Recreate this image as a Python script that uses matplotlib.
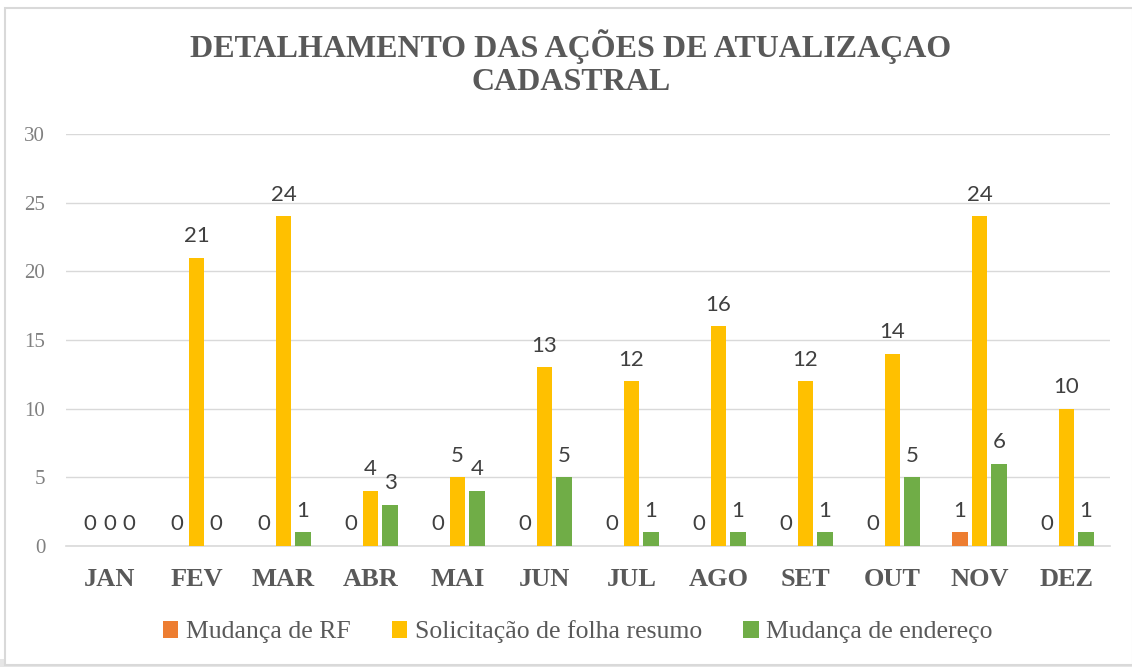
import matplotlib
matplotlib.use("Agg")
import matplotlib.pyplot as plt
import numpy as np
from matplotlib.patches import Rectangle

months = ["JAN", "FEV", "MAR", "ABR", "MAI", "JUN", "JUL", "AGO", "SET", "OUT", "NOV", "DEZ"]
mudanca_rf = [0, 0, 0, 0, 0, 0, 0, 0, 0, 0, 1, 0]
folha_resumo = [0, 21, 24, 4, 5, 13, 12, 16, 12, 14, 24, 10]
mudanca_endereco = [0, 0, 1, 3, 4, 5, 1, 1, 1, 5, 6, 1]
series_names = ["Mudança de RF", "Solicitação de folha resumo", "Mudança de endereço"]
colors = ["#ED7D31", "#FFC000", "#70AD47"]

W, H = 1132, 667
fig = plt.figure(figsize=(W / 100, H / 100), dpi=100)
fig.patch.set_facecolor("white")

# outer frame
fig.patches.append(Rectangle((0, 0), 1, 8 / H, transform=fig.transFigure,
                             facecolor="#e6e6e6", edgecolor="none", zorder=-3))
fig.patches.append(Rectangle((5 / W, 2 / H), 1 - 4 / W, 1 - 10 / H, transform=fig.transFigure,
                             facecolor="white", edgecolor="#d9d9d9", linewidth=1.5, zorder=-2))

left, right = 66 / W, 1110 / W
bottom, top = 1 - 546 / H, 1 - 134 / H
ax = fig.add_axes([left, bottom, right - left, top - bottom])
ax.set_facecolor("none")
ax.set_zorder(2)

x = np.arange(len(months))
step = 0.224
width = 0.18
all_series = [mudanca_rf, folha_resumo, mudanca_endereco]
for i, (vals, name, c) in enumerate(zip(all_series, series_names, colors)):
    pos = x + (i - 1) * step
    ax.bar(pos, vals, width=width, color=c, label=name, zorder=3)
    for p, v in zip(pos, vals):
        ax.text(p, v + 0.85, str(v), ha="center", va="bottom", fontsize=16,
                family="Lato", color="#404040", zorder=4)

ax.set_xlim(-0.5, len(months) - 0.5)
ax.set_ylim(0, 30)
ax.set_yticks(range(0, 31, 5))
ax.yaxis.grid(True, color="#d9d9d9", linewidth=1)
ax.set_axisbelow(True)
for s in ["top", "right", "left"]:
    ax.spines[s].set_visible(False)
ax.spines["bottom"].set_color("#d9d9d9")
ax.spines["bottom"].set_linewidth(1.2)
ax.tick_params(axis="both", length=0)
ax.tick_params(axis="y", pad=15)
ax.tick_params(axis="x", pad=16)
ax.set_xticks(x)
ax.set_xticklabels(months, fontsize=19, fontweight="bold", family="Liberation Serif", color="#595959")
for lab in ax.get_yticklabels():
    lab.set_fontsize(15)
    lab.set_family("Liberation Serif")
    lab.set_color("#808080")

tx = 571 / W
fig.text(tx, 1 - 47 / H, "DETALHAMENTO DAS AÇÕES DE ATUALIZAÇAO", ha="center", va="center",
         fontsize=23, fontweight="bold", family="Liberation Serif", color="#595959")
fig.text(tx, 1 - 83 / H, "CADASTRAL", ha="center", va="center",
         fontsize=23, fontweight="bold", family="Liberation Serif", color="#595959")

leg = fig.legend(loc="center", bbox_to_anchor=(578 / W, 1 - 632 / H), ncol=3, frameon=False,
                 prop={"family": "Liberation Serif", "size": 18.5}, handlelength=0.6,
                 handleheight=0.6, handletextpad=0.3, columnspacing=1.6)
for t in leg.get_texts():
    t.set_color("#595959")

fig.savefig("out.png", dpi=100)
